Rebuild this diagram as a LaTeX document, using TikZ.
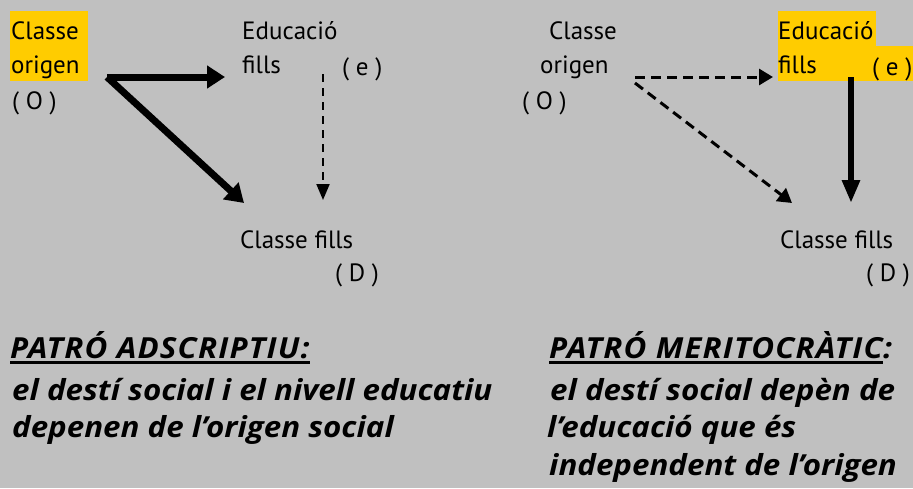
\documentclass[tikz,border=0pt]{standalone}
\usepackage{fontspec}
\setmainfont{PT Sans}
\newfontfamily\capfont{Open Sans}[FakeStretch=1.08]
\newfontfamily\titfont{Open Sans}[FakeStretch=1.08, LetterSpace=4]
\usetikzlibrary{arrows.meta}
\definecolor{bggrey}{HTML}{C0C0C0}
\definecolor{hilite}{HTML}{FFCC00}

\begin{document}
\begin{tikzpicture}[x=1pt,y=-1pt,
	lbl/.style={anchor=base west, inner sep=0pt, font=\fontsize{25}{30}\selectfont},
	txt/.style={anchor=base west, inner sep=0pt, font=\capfont\fontsize{29}{34}\selectfont\bfseries\itshape},
	tit/.style={anchor=base west, inner sep=0pt, font=\titfont\fontsize{29}{34}\selectfont\bfseries\itshape},
	boldarrow/.style={line width=7pt, -{Triangle[length=18pt,width=22pt]}},
	dasharrow/.style={line width=2pt, dash pattern=on 8pt off 6pt, -{Triangle[length=16pt,width=13pt]}},
	dasharrowB/.style={line width=3pt, dash pattern=on 10pt off 6pt, -{Triangle[length=14pt,width=16pt]}},
	downarrow/.style={line width=6pt, -{Triangle[length=23pt,width=17pt]}},
	uline/.style={line width=3pt}]
	% Background
	\useasboundingbox (0,0) rectangle (913,488);
	\fill[bggrey] (0,0) rectangle (913,488);
	% Highlights
	\fill[hilite] (10,11) rectangle (88,81);
	\fill[hilite] (778,11) rectangle (876,46);
	\fill[hilite] (778,46) rectangle (913,81);
	% Left pattern: labels
	\node[lbl] (clsA) at (11,39) {Classe};
	\node[lbl] (orgA) at (11,73) {origen};
	\node[lbl] (oA) at (12,109) {( O )};
	\node[lbl] (eduA) at (242,39) {Educació};
	\node[lbl] (filA) at (242,73) {fills};
	\node[lbl] (eA) at (342,75) {( e )};
	\node[lbl] (desA) at (240,248) {Classe fills};
	\node[lbl] (dA) at (335,281) {( D )};
	% Left pattern: arrows
	\coordinate (fromA) at (107,77);
	\coordinate (toEA) at (225,77);
	\coordinate (toDA) at (244,203);
	\coordinate (topA) at (323,74);
	\coordinate (botA) at (323,200);
	\draw[boldarrow] (fromA) -- (toEA);
	\draw[boldarrow] (fromA) -- (toDA);
	\draw[dasharrow] (topA) -- (botA);
	% Right pattern: labels
	\node[lbl] (clsB) at (549,39) {Classe};
	\node[lbl] (orgB) at (540,73) {origen};
	\node[lbl] (oB) at (522,109) {( O )};
	\node[lbl] (eduB) at (778,39) {Educació};
	\node[lbl] (filB) at (778,73) {fills};
	\node[lbl] (eB) at (872,75) {( e )};
	\node[lbl] (desB) at (780,248) {Classe fills};
	\node[lbl] (dB) at (866,281) {( D )};
	% Right pattern: arrows
	\coordinate (fromB) at (635,77);
	\coordinate (fromB2) at (635,83);
	\coordinate (toEB) at (773,77);
	\coordinate (toDB) at (792,203);
	\coordinate (topB) at (851,77);
	\coordinate (botB) at (851,203);
	\draw[dasharrowB] (fromB) -- (toEB);
	\draw[dasharrowB] (fromB2) -- (toDB);
	\draw[downarrow] (topB) -- (botB);
	% Captions
	\node[tit] (titA) at (10,358) {PATRÓ ADSCRIPTIU:};
	\draw[uline] ([yshift=-4pt]titA.base west) -- ([yshift=-4pt]titA.base east);
	\node[txt] (txtA1) at (12,400) {el destí social i el nivell educatiu};
	\node[txt] (txtA2) at (12,437) {depenen de l’origen social};
	\node[tit] (titB) at (549,358) {PATRÓ MERITOCRÀTIC};
	\node[tit, anchor=base west] (colB) at (titB.base east) {:};
	\draw[uline] ([yshift=-4pt]titB.base west) -- ([yshift=-4pt]titB.base east);
	\node[txt] (txtB1) at (550,400) {el destí social depèn de};
	\node[txt] (txtB2) at (547,437) {l’educació que és};
	\node[txt] (txtB3) at (549,475) {independent de l’origen};
\end{tikzpicture}
\end{document}
